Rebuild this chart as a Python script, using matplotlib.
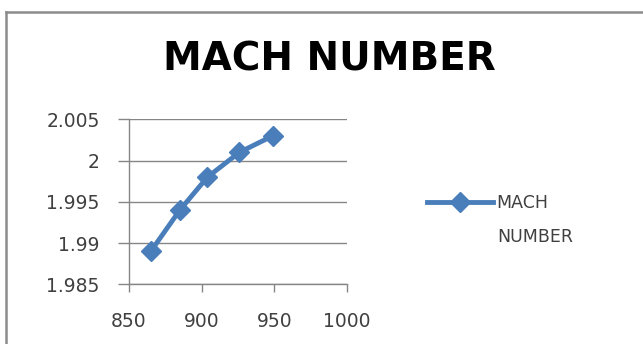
import matplotlib.pyplot as plt
from matplotlib.lines import Line2D

# Mach number vs. x value
x_vals = [865, 885, 904, 926, 949]
mach = [1.989, 1.994, 1.998, 2.001, 2.003]

x_ticks = [850, 900, 950, 1000]
y_ticks = [1.985, 1.99, 1.995, 2.0, 2.005]
y_labels = ["1.985", "1.99", "1.995", "2", "2.005"]

title = "MACH NUMBER"
series_name = ["MACH", "NUMBER"]

blue = "#4a7ebb"
grid_gray = "#868686"
text_gray = "#404040"

fig = plt.figure(figsize=(6.43, 3.44), dpi=100)
ax = fig.add_axes([0.2006, 0.1735, 0.3391, 0.4797])

ax.plot(x_vals, mach, color=blue, lw=3.5, marker="D", ms=10,
        markeredgecolor=blue, markerfacecolor=blue, solid_capstyle="round")

ax.set_xlim(850, 1000)
ax.set_ylim(1.985, 2.005)
ax.set_xticks(x_ticks)
ax.set_yticks(y_ticks)
ax.set_yticklabels(y_labels)
ax.grid(axis="y", color=grid_gray, lw=1.0)
ax.set_axisbelow(True)

for side in ("top", "right"):
    ax.spines[side].set_visible(False)
for side in ("left", "bottom"):
    ax.spines[side].set_color(grid_gray)
    ax.spines[side].set_linewidth(1.0)

ax.tick_params(axis="both", direction="out", width=1.0,
               color=grid_gray, labelsize=13.5, labelcolor=text_gray)
ax.tick_params(axis="x", length=6, pad=14)
ax.tick_params(axis="y", length=8, pad=13)

fig.text(0.512, 0.826, title, ha="center", va="center",
         fontsize=28, fontweight="bold", color="black")

# legend: marker line beside the first word, second word wraps underneath
handle = Line2D([], [], color=blue, lw=3.5, marker="D", ms=10)
fig.legend([handle], [series_name[0]], loc="center left",
           bbox_to_anchor=(0.664, 0.41), frameon=False, fontsize=12.5,
           handlelength=3.8, handletextpad=0.2, labelcolor=text_gray,
           borderpad=0, borderaxespad=0)
fig.text(0.774, 0.311, series_name[1], ha="left", va="center",
         fontsize=12.5, color=text_gray)

# outer chart frame (left and top edges only)
fig.add_artist(Line2D([0.0095, 0.0095], [0.0, 0.965], color="#8c8c8c",
                      lw=1.8, transform=fig.transFigure))
fig.add_artist(Line2D([0.0095, 1.0], [0.965, 0.965], color="#8c8c8c",
                      lw=1.8, transform=fig.transFigure))

fig.savefig("out.png", dpi=100)
